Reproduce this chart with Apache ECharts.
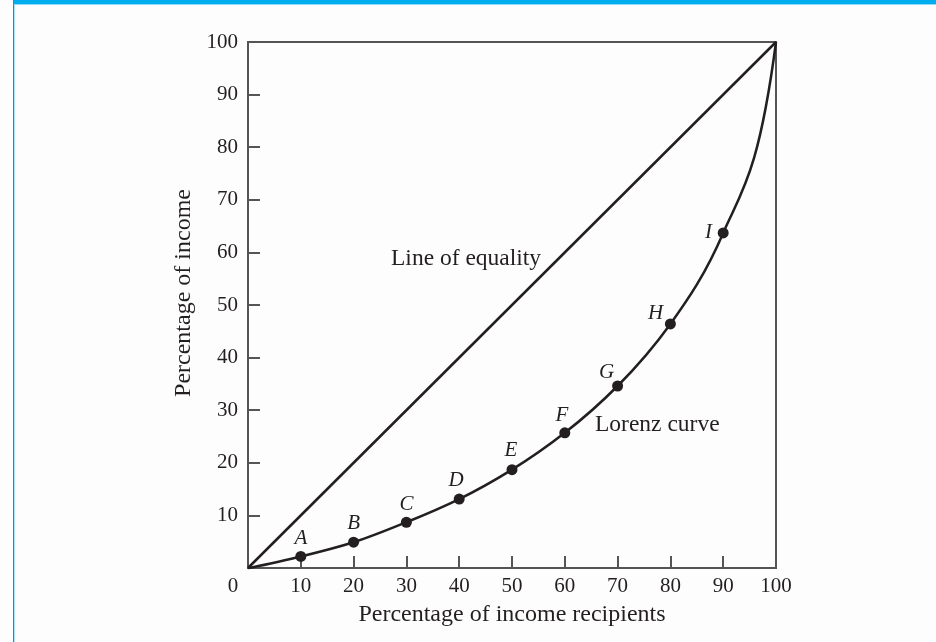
<!DOCTYPE html>
<html><head><meta charset="utf-8">
<script src="https://cdn.jsdelivr.net/npm/echarts@6/dist/echarts.min.js"></script>
<style>html,body{margin:0;padding:0;background:#fdfdfd}#c{width:936px;height:642px}</style>
</head><body><div id="c"></div>
<script>
// ---- data ----
const recipientsPct = [0, 10, 20, 30, 40, 50, 60, 70, 80, 90, 100];
const lorenzIncomePct = [0, 2.2, 4.9, 8.7, 13.1, 18.7, 25.7, 34.6, 46.4, 63.7, 100];
const pointNames = ['', 'A', 'B', 'C', 'D', 'E', 'F', 'G', 'H', 'I', ''];
const equalityX = [0, 100];
const equalityY = [0, 100];
const axisTicks = [0, 10, 20, 30, 40, 50, 60, 70, 80, 90, 100];
const xAxisTitle = 'Percentage of income recipients';
const yAxisTitle = 'Percentage of income';
const equalityLabel = 'Line of equality';
const lorenzLabel = 'Lorenz curve';

// ---- styling ----
const SERIF = '"Liberation Serif", "Times New Roman", serif';
const INK = '#231f20';
const FRAME = '#555555';
const letterOffsets = [[0,0],[0,-18],[0,-18.5],[0,-18],[-3,-19],[-1,-19],[-3,-17],[-11,-13.5],[-14.7,-10],[-14.6,0],[0,0]];

// smooth monotone tangents (harmonic mean of neighbouring secants; ends extrapolate the secant growth)
function tangents(xs, ys) {
  const n = xs.length, s = [], m = new Array(n);
  for (let i = 0; i < n - 1; i++) s.push((ys[i + 1] - ys[i]) / (xs[i + 1] - xs[i]));
  for (let i = 1; i < n - 1; i++) {
    m[i] = (s[i - 1] * s[i] > 0) ? 2 / (1 / s[i - 1] + 1 / s[i]) : 0;
  }
  m[0] = s[0] * s[0] / s[1];
  m[n - 1] = s[n - 2] * s[n - 2] / s[n - 3];
  return m;
}
const lorenzTangents = tangents(recipientsPct, lorenzIncomePct);

const markerData = [];
const markerOffsets = [];
recipientsPct.forEach((x, i) => {
  if (pointNames[i]) {
    markerData.push({ name: pointNames[i], value: [x, lorenzIncomePct[i]], label: { offset: letterOffsets[i] } });
  }
});
const curveData = recipientsPct.map((x, i) => [x, lorenzIncomePct[i]]);
const equalityData = equalityX.map((x, i) => [x, equalityY[i]]);

function renderCurve(params, api) {
  if (params.dataIndex !== 0) return null;
  const xs = recipientsPct, ys = lorenzIncomePct, m = lorenzTangents;
  const p0 = api.coord([xs[0], ys[0]]);
  let d = 'M' + p0[0] + ' ' + p0[1];
  for (let i = 0; i < xs.length - 1; i++) {
    const h = xs[i + 1] - xs[i];
    const c1 = api.coord([xs[i] + h / 3, ys[i] + m[i] * h / 3]);
    const c2 = api.coord([xs[i + 1] - h / 3, ys[i + 1] - m[i + 1] * h / 3]);
    const p = api.coord([xs[i + 1], ys[i + 1]]);
    d += ' C' + c1[0] + ' ' + c1[1] + ' ' + c2[0] + ' ' + c2[1] + ' ' + p[0] + ' ' + p[1];
  }
  return {
    type: 'path',
    shape: { pathData: d },
    style: { fill: 'none', stroke: INK, lineWidth: 2.5, lineJoin: 'round' }
  };
}

const chart = echarts.init(document.getElementById('c'), null, { renderer: 'canvas' });
chart.setOption({
  backgroundColor: '#fdfdfd',
  animation: false,
  grid: { left: 248, top: 42, width: 528, height: 526, show: true, borderColor: FRAME, borderWidth: 2, backgroundColor: 'transparent' },
  xAxis: {
    type: 'value', min: axisTicks[0], max: axisTicks[axisTicks.length - 1], interval: 10,
    axisLine: { show: true, onZero: false, lineStyle: { color: FRAME, width: 2 } },
    axisTick: { show: true, inside: true, length: 12, lineStyle: { color: FRAME, width: 2 } },
    splitLine: { show: false },
    axisLabel: {
      margin: 8, color: INK, fontFamily: SERIF, fontSize: 21,
      formatter: v => v === 0 ? '{z|0}' : String(v),
      rich: { z: { fontFamily: SERIF, fontSize: 21, color: INK, padding: [0, 30, 0, 0] } }
    },
    name: xAxisTitle, nameLocation: 'middle', nameGap: 35,
    nameTextStyle: { color: INK, fontFamily: SERIF, fontSize: 24 }
  },
  yAxis: {
    type: 'value', min: axisTicks[0], max: axisTicks[axisTicks.length - 1], interval: 10,
    axisLine: { show: true, onZero: false, lineStyle: { color: FRAME, width: 2 } },
    axisTick: { show: true, inside: true, length: 12, lineStyle: { color: FRAME, width: 2 } },
    splitLine: { show: false },
    axisLabel: {
      margin: 10, color: INK, fontFamily: SERIF, fontSize: 21,
      formatter: v => v === 0 ? '' : String(v)
    },
    name: yAxisTitle, nameLocation: 'middle', nameGap: 47,
    nameTextStyle: { color: INK, fontFamily: SERIF, fontSize: 24, padding: [0, 0, 0, 24] }
  },
  series: [
    {
      name: equalityLabel, type: 'line', data: equalityData, showSymbol: false, symbol: 'none',
      lineStyle: { color: INK, width: 2.5 }, z: 3
    },
    {
      name: lorenzLabel, type: 'custom', data: curveData, renderItem: renderCurve,
      encode: { x: 0, y: 0 }, clip: false, z: 4, silent: true
    },
    {
      name: lorenzLabel + ' points', type: 'scatter', data: markerData,
      symbol: 'circle', symbolSize: 11,
      itemStyle: { color: INK, opacity: 1 },
      label: {
        show: true, position: 'inside', formatter: p => p.name,
        color: INK, fontFamily: SERIF, fontStyle: 'italic', fontSize: 21
      },
      z: 5
    }
  ],
  graphic: [
    { type: 'rect', left: 13, top: 0, shape: { width: 923, height: 4 }, style: { fill: '#00aeef' }, silent: true },
    { type: 'rect', left: 14, top: 4, shape: { width: 922, height: 1 }, style: { fill: '#8fdaf7' }, silent: true },
    { type: 'rect', left: 13, top: 0, shape: { width: 1, height: 642 }, style: { fill: '#0a95d4' }, silent: true },
    { type: 'rect', left: 14, top: 4, shape: { width: 1, height: 638 }, style: { fill: '#a3e2f8' }, silent: true },
    { type: 'text', x: 391, y: 259, style: { text: equalityLabel, fill: INK, font: '23.5px ' + SERIF, align: 'left', verticalAlign: 'middle' }, silent: true },
    { type: 'text', x: 595, y: 425, style: { text: lorenzLabel, fill: INK, font: '23.5px ' + SERIF, align: 'left', verticalAlign: 'middle' }, silent: true }
  ]
});
</script>
</body></html>
